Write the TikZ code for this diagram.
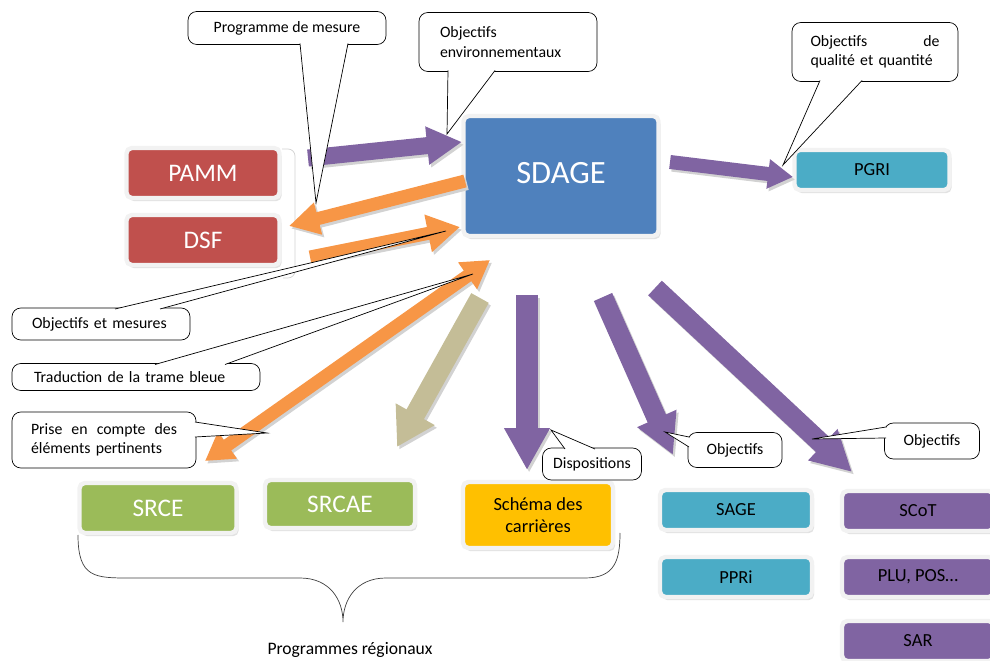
\documentclass[tikz,border=0pt]{standalone}
\usepackage{fontspec}
\setmainfont{Carlito}
\usepackage{xcolor}
\usetikzlibrary{arrows.meta}
\usetikzlibrary{positioning,shadows}
\definecolor{sdred}{HTML}{C0504D}
\definecolor{sdblue}{HTML}{4F81BD}
\definecolor{sdteal}{HTML}{4BACC6}
\definecolor{sdgreen}{HTML}{9BBB59}
\definecolor{sdgold}{HTML}{FFC000}
\definecolor{sdviolet}{HTML}{8064A2}
\definecolor{sdorange}{HTML}{F79646}
\definecolor{sdkhaki}{HTML}{C4BD97}
\tikzset{
    box/.style={
        rectangle,
        rounded corners=3pt,
        draw=white!90!gray,
        line width=2.5pt,
        drop shadow={shadow xshift=1.2pt, shadow yshift=-1.8pt, fill=gray!45},
        text=white,
        font=\fontsize{14.4}{16}\selectfont
    },
    smallbox/.style={
        box,
        text=black,
        minimum width=3.04cm,
        minimum height=0.8cm,
        font=\fontsize{10.5}{12.5}\selectfont
    },
    callbox/.style={
        rectangle,
        draw,
        fill=white,
        rounded corners=5pt,
        inner sep=2pt,
        font=\fontsize{9}{11}\selectfont
    },
    pointer/.style={
        draw,
        fill=white,
        line join=miter
    }
}

\begin{document}
\begin{tikzpicture}[x=0.02cm, y=-0.02cm]
  \useasboundingbox (0,0) rectangle (990,661);

  % frame behind PAMM and DSF
  \draw[gray!35, rounded corners=4pt] (282,149) -| (295,278) -- (283,278);

  % boxes
  \node[box, fill=sdred, minimum width=3.06cm, minimum height=1cm] (pamm) at (203,173) {PAMM};
  \node[box, fill=sdred, minimum width=3.06cm, minimum height=1cm] (dsf) at (203,240) {DSF};
  \node[box, fill=sdblue, minimum width=3.9cm, minimum height=2.4cm, font=\fontsize{18.5}{20}\selectfont] (sdage) at (561,176) {\raisebox{3.5pt}{SDAGE}};
  \node[smallbox, fill=sdteal, minimum width=3.1cm] (pgri) at (872,170) {PGRI};
  \node[box, fill=sdgreen, minimum width=3.14cm, minimum height=1cm] (srce) at (158,508) {SRCE};
  \node[box, fill=sdgreen, minimum width=3.0cm, minimum height=0.96cm] (srcae) at (340,504) {SRCAE};
  \node[smallbox, fill=sdgold, minimum width=3.0cm, minimum height=1.32cm, align=center] (carr) at (538,515) {Schéma des\\carrières};
  \node[smallbox, fill=sdteal] (sage) at (736,510) {SAGE};
  \node[smallbox, fill=sdteal] (ppri) at (736,577) {PPRi};
  \node[smallbox, fill=sdviolet] (scot) at (918,511) {SCoT};
  \node[smallbox, fill=sdviolet] (plu) at (918,577) {PLU, POS…};
  \node[smallbox, fill=sdviolet] (sar) at (918,641) {SAR};

  % arrow ends
  \coordinate (pammOut) at (308,158);
  \coordinate (sdageInA) at (462,142);
  \coordinate (sdageOutA) at (465,181);
  \coordinate (dsfIn) at (289,226);
  \coordinate (dsfOut) at (310,257);
  \coordinate (sdageInB) at (460,227);
  \coordinate (sdageUp) at (490,260);
  \coordinate (srceIn) at (205,461);
  \coordinate (sdageK) at (480,298);
  \coordinate (srcaeIn) at (397,447);
  \coordinate (sdageV) at (527,295);
  \coordinate (carrIn) at (527,470);
  \coordinate (sdageW) at (603,297);
  \coordinate (sageIn) at (673,455);
  \coordinate (sdageZ) at (655,288);
  \coordinate (scotIn) at (852,472);
  \coordinate (sdageG) at (670,162);
  \coordinate (pgriIn) at (793,177);

  % block arrows
  \foreach \a/\b/\c/\w/\l/\h in {
      pammOut/sdageInA/sdviolet/0.34cm/0.7cm/0.72cm,
      sdageOutA/dsfIn/sdorange/0.26cm/0.6cm/0.62cm,
      dsfOut/sdageInB/sdorange/0.26cm/0.65cm/0.72cm,
      sdageK/srcaeIn/sdkhaki/0.4cm/0.75cm/0.84cm,
      sdageV/carrIn/sdviolet/0.44cm/0.84cm/0.86cm,
      sdageW/sageIn/sdviolet/0.4cm/0.8cm/0.8cm,
      sdageZ/scotIn/sdviolet/0.4cm/0.8cm/0.8cm,
      sdageG/pgriIn/sdviolet/0.28cm/0.5cm/0.56cm} {
    \draw[gray!35, line width=\w, -{Triangle[length=\l, width=\h]},
      transform canvas={shift={(1.2pt,-1.5pt)}}] (\a) -- (\b);
    \draw[\c, line width=\w, -{Triangle[length=\l, width=\h]}] (\a) -- (\b);
  }
  \draw[gray!35, line width=0.26cm, {Triangle[length=0.55cm, width=0.62cm]}-{Triangle[length=0.55cm, width=0.62cm]},
    transform canvas={shift={(1.2pt,-1.5pt)}}] (srceIn) -- (sdageUp);
  \draw[sdorange, line width=0.26cm, {Triangle[length=0.55cm, width=0.62cm]}-{Triangle[length=0.55cm, width=0.62cm]}] (srceIn) -- (sdageUp);

  % callouts
  \node[callbox, minimum width=3.96cm, minimum height=0.66cm] (cProg) at (287,28) {Programme de mesure};
  \filldraw[pointer] (300,43.5) -- (316,203) -- (348,43.5);
  \node[callbox, minimum width=3.56cm, minimum height=1.18cm, text width=2.72cm, align=left] (cEnv) at (508,42) {Objectifs\\environnementaux};
  \filldraw[pointer] (448,70.5) -- (447,134) -- (495,70.5);
  \node[callbox, minimum width=3.32cm, minimum height=1.18cm, text width=2.58cm, align=left] (cQual) at (875,52) {Objectifs\hfill de\\qualité et quantité};
  \filldraw[pointer] (820,80.5) -- (783,165) -- (862,80.5);
  \node[callbox, minimum width=3.56cm, minimum height=0.64cm, text width=2.76cm, align=left] (cMes) at (101,324) {Objectifs et mesures};
  \filldraw[pointer] (115,309) -- (446,231) -- (160,309);
  \node[callbox, minimum width=4.96cm, minimum height=0.54cm, text width=4.08cm, align=left] (cTrame) at (136,377) {Traduction de la trame bleue};
  \filldraw[pointer] (155,364.5) -- (473,274) -- (225,364.5);
  \node[callbox, minimum width=3.68cm, minimum height=1.12cm, text width=2.92cm, align=left] (cPrise) at (104,440) {Prise\hfill en\hfill compte\hfill des\\éléments pertinents};
  \filldraw[pointer] (195,422) -- (267,433) -- (195,437);
  \node[callbox, minimum width=1.98cm, minimum height=0.64cm] (cDisp) at (592,464) {Dispositions};
  \filldraw[pointer] (565,449) -- (551,430) -- (595,449);
  \node[callbox, minimum width=1.88cm, minimum height=0.7cm] (cObjA) at (735,450) {Objectifs};
  \filldraw[pointer] (689,437) -- (665,432) -- (689,447);
  \node[callbox, minimum width=1.9cm, minimum height=0.72cm] (cObjB) at (932,441) {Objectifs};
  \filldraw[pointer] (886,427) -- (812,439) -- (886,438);

  % brace under the regional programmes
  \node[font=\fontsize{10}{12}\selectfont] (prog) at (350,650) {Programmes régionaux};
  \draw[black!75] (78,535) .. controls (78,578) and (95,578) .. (130,578) -- (300,578)
    .. controls (330,578) and (343,600) .. (343,622)
    .. controls (343,600) and (356,578) .. (386,578) -- (585,578)
    .. controls (615,578) and (620,560) .. (620,533);
\end{tikzpicture}
\end{document}
